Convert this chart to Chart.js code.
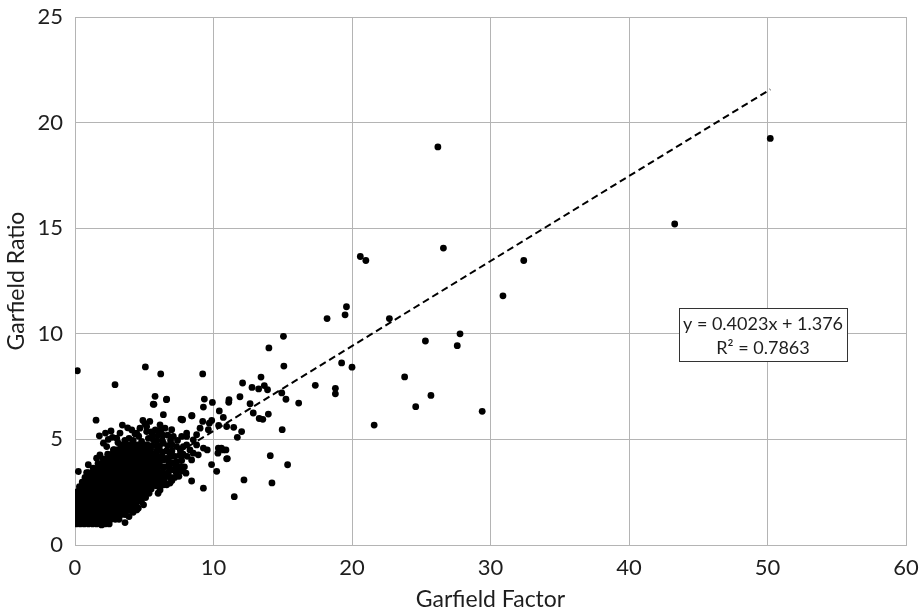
<!DOCTYPE html>
<html>
<head>
<meta charset="utf-8">
<script src="https://cdn.jsdelivr.net/npm/chart.js@4.4.1/dist/chart.umd.min.js"></script>
<style>
  html, body { margin: 0; padding: 0; background: #ffffff; }
  #wrap { width: 921px; height: 613px; position: relative; }
</style>
</head>
<body>
<div id="wrap"><canvas id="garfieldChart"></canvas></div>
<script>
// Garfield Ratio vs Garfield Factor scatter, with linear trendline

// Dense core of the cloud, read row by row (ratio of the row, factors along it)
const coreRatio = [1.0, 1.22, 1.44, 1.66, 1.88, 2.1, 2.32, 2.54, 2.76, 2.98, 3.2, 3.42, 3.64, 3.86, 4.08, 4.3, 4.52, 4.74];
const coreFactor = [
    [0.08, 0.37, 0.66, 0.97, 1.27, 1.56, 1.86, 2.17, 2.47],
    [0.21, 0.5, 0.81, 1.11, 1.4, 1.71, 2.02, 2.31, 2.6, 2.91, 3.18],
    [0.07, 0.38, 0.67, 0.96, 1.27, 1.58, 1.87, 2.16, 2.47, 2.78, 3.07, 3.36, 3.62],
    [0.2, 0.51, 0.82, 1.12, 1.41, 1.72, 2.01, 2.32, 2.63, 2.92, 3.21, 3.52, 3.8, 4.04],
    [0.08, 0.37, 0.68, 0.97, 1.28, 1.57, 1.86, 2.17, 2.48, 2.77, 3.06, 3.37, 3.68, 3.97, 4.24, 4.4],
    [0.22, 0.52, 0.81, 1.12, 1.43, 1.71, 2.02, 2.33, 2.62, 2.91, 3.22, 3.52, 3.81, 4.12, 4.41, 4.66],
    [0.07, 0.38, 0.67, 0.98, 1.27, 1.56, 1.87, 2.18, 2.47, 2.76, 3.07, 3.38, 3.66, 3.97, 4.27, 4.56, 4.84],
    [0.21, 0.52, 0.83, 1.12, 1.41, 1.72, 2.03, 2.32, 2.61, 2.92, 3.23, 3.51, 3.82, 4.12, 4.41, 4.72, 5.0, 5.12],
    [0.32, 0.62, 0.91, 1.22, 1.53, 1.82, 2.11, 2.42, 2.73, 3.02, 3.31, 3.62, 3.92, 4.21, 4.52, 4.83, 5.11, 5.3],
    [0.52, 0.81, 1.12, 1.41, 1.7, 2.01, 2.32, 2.61, 2.9, 3.21, 3.52, 3.8, 4.11, 4.42, 4.71, 5.0, 5.31, 5.5],
    [0.72, 1.01, 1.32, 1.63, 1.92, 2.21, 2.52, 2.83, 3.12, 3.41, 3.72, 4.03, 4.31, 4.62, 4.93, 5.22, 5.51, 5.66],
    [0.97, 1.27, 1.56, 1.87, 2.18, 2.47, 2.76, 3.07, 3.38, 3.67, 3.96, 4.27, 4.58, 4.87, 5.16, 5.47, 5.74],
    [1.31, 1.62, 1.91, 2.22, 2.53, 2.82, 3.11, 3.42, 3.73, 4.02, 4.31, 4.62, 4.93, 5.22, 5.51, 5.78],
    [1.66, 1.96, 2.27, 2.58, 2.87, 3.16, 3.47, 3.78, 4.07, 4.36, 4.67, 4.98, 5.27, 5.56, 5.8],
    [2.02, 2.31, 2.62, 2.93, 3.22, 3.51, 3.82, 4.13, 4.42, 4.71, 5.02, 5.33, 5.62, 5.76],
    [2.36, 2.67, 2.98, 3.27, 3.56, 3.87, 4.18, 4.47, 4.76, 5.07, 5.38, 5.64],
    [2.82, 3.11, 3.42, 3.73, 4.02, 4.31, 4.62, 4.93, 5.22, 5.46],
    [3.31, 3.62, 3.93, 4.22, 4.51, 4.82, 5.13, 5.22]
];

// Looser points around the core [factor, ratio]
const fringePoints = [
    [0.24, 3.48], [0.84, 3.43], [0.96, 3.8], [1.56, 4.11], [1.8, 4.27], [2.05, 4.82], [2.29, 4.66],
    [2.77, 4.5], [3.49, 4.74], [1.76, 5.17], [1.52, 5.91], [3.42, 5.68], [3.25, 5.3], [3.01, 5.06],
    [3.6, 4.95], [4.33, 5.27], [4.45, 5.3], [4.69, 5.53], [5.05, 5.74], [5.17, 5.61], [5.17, 5.37],
    [4.81, 4.9], [5.65, 4.98], [6.14, 5.69], [6.5, 5.53], [6.98, 5.46], [7.1, 5.14], [7.7, 5.14],
    [8.06, 5.3], [8.78, 5.22], [6.38, 4.82], [7.34, 4.66], [8.06, 4.74], [8.42, 4.03], [8.54, 4.35],
    [6.86, 4.35], [6.38, 4.03], [7.1, 3.56], [7.58, 3.71], [6.62, 3.24], [6.86, 2.93], [6.14, 2.77],
    [8.01, 3.4], [5.65, 3.08], [5.9, 3.56], [6.14, 2.61], [6.0, 2.45], [6.62, 2.85], [7.34, 3.64],
    [4.33, 1.98], [4.45, 1.66], [4.57, 1.74], [3.61, 1.06], [1.92, 0.95], [5.7, 6.66], [6.6, 6.88],
    [6.38, 6.17], [5.78, 7.04], [5.65, 6.67], [6.62, 6.91], [7.73, 5.93], [8.42, 6.12], [7.65, 5.96],
    [2.89, 7.59], [0.17, 8.25], [5.08, 8.43], [6.19, 8.1], [6.1, 4.5], [6.6, 4.1], [7.0, 3.9],
    [7.8, 4.3], [7.82, 4.66], [8.3, 4.5], [8.9, 4.27], [9.27, 4.59], [8.54, 4.98], [8.06, 5.14],
    [8.78, 4.74], [7.82, 4.27], [6.0, 5.2], [5.9, 4.7], [6.2, 3.3], [6.5, 3.7], [7.2, 3.2],
    [6.0, 4.2], [5.95, 3.9], [6.3, 4.4], [5.3, 2.7], [5.6, 2.9], [7.77, 5.93], [8.42, 3.03],
    [2.4, 5.0], [2.7, 5.1], [3.9, 5.05], [4.1, 5.45], [4.6, 5.15], [5.3, 5.05], [5.5, 5.35],
    [3.8, 5.55], [2.6, 5.4], [4.9, 5.9], [5.4, 5.85], [3.1, 4.85], [4.2, 4.95], [2.2, 5.3],
    [5.5, 2.8], [5.85, 2.8], [6.4, 2.85], [5.8, 3.0], [6.1, 3.0], [6.45, 3.0], [7.0, 3.05],
    [5.95, 3.2], [6.3, 3.2], [6.9, 3.2], [7.5, 3.25], [6.0, 3.45], [6.35, 3.45], [6.75, 3.45],
    [7.3, 3.45], [7.7, 3.5], [6.05, 3.7], [6.3, 3.7], [6.8, 3.7], [7.25, 3.75], [7.9, 3.7],
    [6.1, 3.95], [6.75, 3.95], [7.35, 3.95], [7.7, 4.0], [6.3, 4.2], [6.9, 4.2], [7.2, 4.2],
    [7.55, 4.25], [8.1, 4.2], [5.9, 4.45], [6.6, 4.45], [7.0, 4.45], [7.6, 4.5], [5.55, 4.7],
    [6.1, 4.7], [6.7, 4.7], [7.0, 4.75], [5.9, 4.95], [6.3, 4.95], [6.9, 4.95], [7.4, 4.95],
    [5.6, 5.2], [6.35, 5.2], [6.7, 5.2], [5.8, 5.45], [6.2, 5.45], [3.9, 1.35], [4.2, 1.55],
    [4.8, 2.05], [5.1, 2.25], [5.35, 2.45], [4.95, 1.9], [5.5, 2.65]
];

// Scattered points away from the cloud [factor, ratio]
const outlierPoints = [
    [50.2, 19.25], [26.2, 18.85], [43.3, 15.2], [20.6, 13.66], [21.0, 13.47], [26.6, 14.06],
    [32.4, 13.47], [30.9, 11.8], [19.6, 11.28], [19.5, 10.9], [18.2, 10.72], [22.7, 10.72],
    [27.8, 10.0], [27.6, 9.44], [25.3, 9.66], [20.0, 8.42], [19.25, 8.62], [23.8, 7.96],
    [18.8, 7.42], [18.8, 7.16], [17.35, 7.56], [25.7, 7.08], [24.6, 6.55], [29.4, 6.33],
    [21.6, 5.68], [15.35, 3.8], [11.5, 2.29], [14.22, 2.94], [14.1, 4.23], [15.05, 9.88],
    [14.0, 9.33], [15.08, 8.47], [9.22, 8.1], [12.1, 7.67], [12.78, 7.46], [13.26, 7.39],
    [13.43, 7.95], [13.67, 7.55], [13.9, 7.35], [14.93, 7.2], [15.23, 6.9], [16.15, 6.72],
    [11.91, 7.02], [12.64, 6.69], [12.87, 6.25], [13.3, 5.99], [13.56, 5.95], [13.96, 6.2],
    [14.96, 5.46], [12.2, 3.08], [9.27, 2.69], [10.23, 3.49], [9.86, 3.81], [10.35, 4.59],
    [10.95, 4.08], [10.71, 4.5], [11.72, 5.1], [12.03, 5.37], [11.46, 5.57], [9.87, 5.9],
    [10.37, 5.66], [10.95, 5.61], [9.92, 6.75], [10.42, 6.35], [10.71, 6.04], [9.34, 6.91],
    [9.27, 6.53], [11.12, 6.88], [11.1, 6.76], [9.22, 5.85], [9.7, 5.77], [9.03, 5.53],
    [9.63, 5.46], [8.45, 6.12], [11.0, 4.09], [10.32, 4.35], [9.55, 4.5], [10.9, 4.5], [10.57, 4.59]
];

// Trendline as given in the chart label
const trendSlope = 0.4023;
const trendIntercept = 1.376;
const trendLabel = ['y = 0.4023x + 1.376', 'R\u00b2 = 0.7863'];

const xTicks = [0, 10, 20, 30, 40, 50, 60];
const yTicks = [0, 5, 10, 15, 20, 25];

const FONT = "Lato, 'Open Sans', sans-serif";
const GRID = '#b4b4b4';
const TEXT = '#1e1e1e';

// Build the point list for Chart.js
const points = [];
coreRatio.forEach((ratio, i) => {
    coreFactor[i].forEach(f => points.push({ x: f, y: ratio }));
});
fringePoints.concat(outlierPoints).forEach(p => points.push({ x: p[0], y: p[1] }));

const minX = Math.min(...points.map(p => p.x));
const maxX = Math.max(...points.map(p => p.x));
const trendPoints = [minX, maxX].map(x => ({ x: x, y: trendSlope * x + trendIntercept }));

// Equation box drawn on top of the plot
const equationBox = {
    id: 'equationBox',
    afterDatasetsDraw(chart) {
        const { ctx, chartArea } = chart;
        const left = chartArea.left + 604;
        const top = chartArea.top + 291;
        const w = 168, h = 53;
        ctx.save();
        ctx.fillStyle = '#ffffff';
        ctx.fillRect(left, top, w, h);
        ctx.strokeStyle = '#333333';
        ctx.lineWidth = 1;
        ctx.strokeRect(left + 0.5, top + 0.5, w, h);
        ctx.fillStyle = TEXT;
        ctx.font = '18px ' + FONT;
        ctx.textAlign = 'center';
        ctx.textBaseline = 'middle';
        ctx.fillText(trendLabel[0], left + w / 2, top + 16);
        ctx.fillText(trendLabel[1], left + w / 2, top + 40);
        ctx.restore();
    }
};

new Chart(document.getElementById('garfieldChart'), {
    type: 'scatter',
    data: {
        datasets: [
            {
                label: 'Linear (Garfield Ratio)',
                type: 'line',
                data: trendPoints,
                borderColor: '#000000',
                borderWidth: 2,
                borderDash: [7, 4],
                pointRadius: 0,
                fill: false
            },
            {
                label: 'Garfield Ratio',
                data: points,
                backgroundColor: '#000000',
                borderWidth: 0,
                pointRadius: 3.4,
                pointHoverRadius: 3.4
            }
        ]
    },
    options: {
        responsive: true,
        maintainAspectRatio: false,
        animation: false,
        layout: { padding: { left: 0, right: 15, top: 17, bottom: 0 } },
        plugins: {
            legend: { display: false },
            tooltip: { enabled: false }
        },
        scales: {
            x: {
                type: 'linear',
                min: 0,
                max: 60,
                afterBuildTicks: scale => { scale.ticks = xTicks.map(v => ({ value: v })); },
                afterFit: scale => {
                    scale.height = 68;
                    scale.paddingLeft = 0;
                    scale.paddingRight = 0;
                },
                grid: { color: GRID, drawTicks: false },
                border: { color: GRID },
                ticks: { color: TEXT, font: { family: FONT, size: 22 }, padding: 10 },
                title: {
                    display: true,
                    text: 'Garfield Factor',
                    color: TEXT,
                    font: { family: FONT, size: 23 },
                    padding: { top: 0, bottom: 0 }
                }
            },
            y: {
                type: 'linear',
                min: 0,
                max: 25,
                afterBuildTicks: scale => { scale.ticks = yTicks.map(v => ({ value: v })); },
                afterFit: scale => {
                    scale.width = 75;
                    scale.paddingTop = 0;
                    scale.paddingBottom = 0;
                },
                grid: { color: GRID, drawTicks: false },
                border: { color: GRID },
                ticks: { color: TEXT, font: { family: FONT, size: 22 }, padding: 12 },
                title: {
                    display: true,
                    text: 'Garfield Ratio',
                    color: TEXT,
                    font: { family: FONT, size: 23 },
                    padding: { top: 3, bottom: 0 }
                }
            }
        }
    },
    plugins: [equationBox]
});
</script>
</body>
</html>
